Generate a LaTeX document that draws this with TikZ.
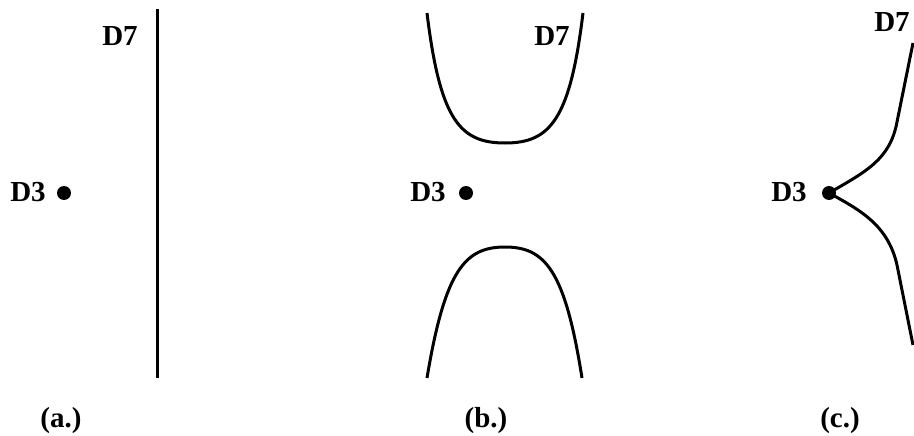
\documentclass[tikz,border=0pt]{standalone}
\usepackage{fontspec}
\setmainfont{Liberation Serif}
\usetikzlibrary{positioning}

\begin{document}
\begin{tikzpicture}[x=1pt,y=-1pt,
  lbl/.style={font=\fontsize{29}{32}\selectfont\bfseries,inner sep=0pt},
  brn/.style={circle,fill=black,inner sep=0pt,minimum size=14pt},
  sheet/.style={line width=3pt}
]
\useasboundingbox (0,0) rectangle (914,436);
% (a.) flat D7, D3 away from it
\node[lbl] (d7a) at (120,36) {D7};
\node[brn] (pa) at (64,193) {};
\node[lbl] (d3a) at (28,192) {D3};
\coordinate (atop) at (157,9);
\coordinate (abot) at (157,378);
\draw[sheet] (atop) -- (abot);
\node[lbl] (capa) at (61,421) {(a.)};
% (b.) D7 pulled apart round the D3
\node[lbl] (d7b) at (552,36) {D7};
\node[brn] (pb) at (466,193) {};
\node[lbl] (d3b) at (428,192) {D3};
\coordinate (bul) at (427,13);
\coordinate (bur) at (583,13);
\coordinate (bum) at (505,143);
\coordinate (bll) at (427,378);
\coordinate (blr) at (582,378);
\coordinate (blm) at (505,247);
\draw[sheet] (bul) .. controls (440,120) and (460,143) .. (bum)
  .. controls (550,143) and (570,120) .. (bur);
\draw[sheet] (bll) .. controls (445,270) and (465,247) .. (blm)
  .. controls (545,247) and (565,270) .. (blr);
\node[lbl] (capb) at (486,421) {(b.)};
% (c.) D7 ending on the D3
\node[lbl] (d7c) at (892,22) {D7};
\node[brn] (pc) at (829,193) {};
\node[lbl] (d3c) at (789,192) {D3};
\coordinate (cup) at (913,43);
\coordinate (cdn) at (913,345);
\draw[sheet] (pc.center) .. controls (865,172) and (890,160) .. (897,122) -- (cup);
\draw[sheet] (pc.center) .. controls (860,210) and (888,225) .. (897,265) -- (cdn);
\node[lbl] (capc) at (840,421) {(c.)};
\end{tikzpicture}
\end{document}
